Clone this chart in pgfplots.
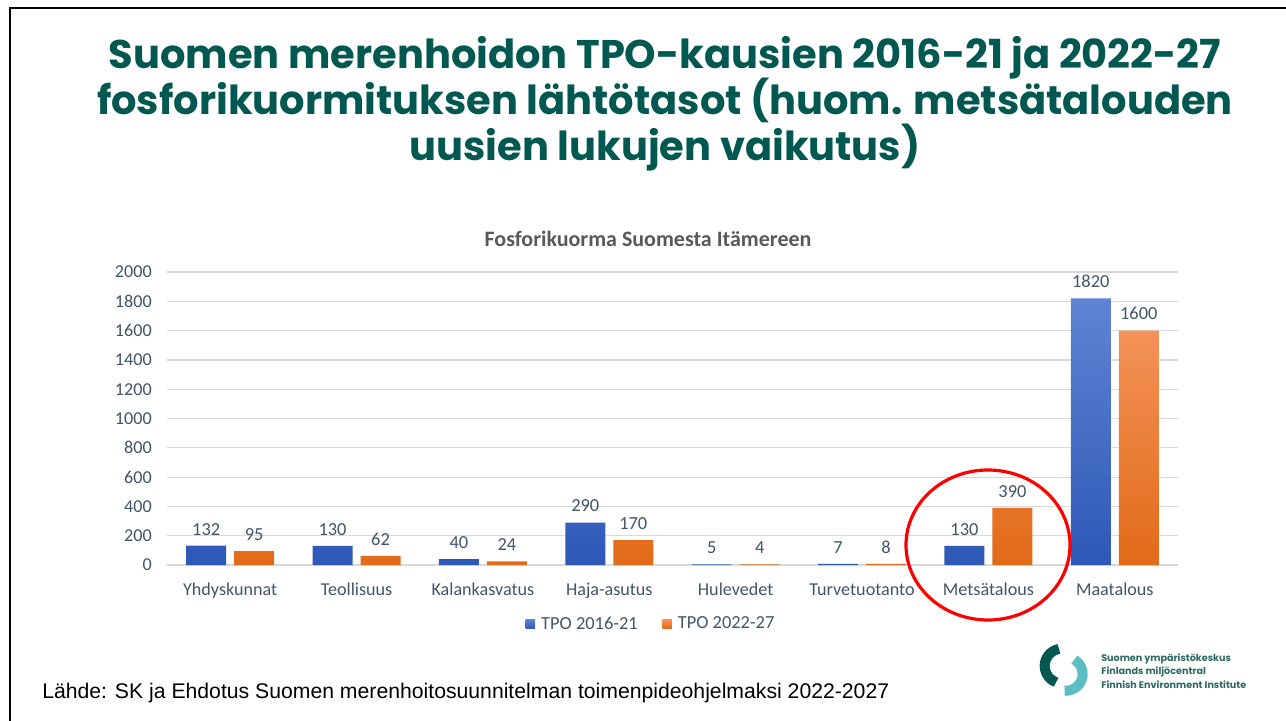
\documentclass[border=0pt]{standalone}
\usepackage{pgfplots}
\pgfplotsset{compat=1.18}
\usepackage{fontspec}
\newfontfamily\carlito{Carlito}
\newfontfamily\poppins{Poppins}
\newfontfamily\arialf{Liberation Sans}
\definecolor{titlegreen}{RGB}{0,88,80}
\definecolor{txtgray}{RGB}{68,84,106}
\definecolor{ctitle}{RGB}{89,89,89}
\definecolor{gridc}{RGB}{217,217,217}
\definecolor{blueT}{RGB}{95,132,212}
\definecolor{blueB}{RGB}{45,88,182}
\definecolor{orT}{RGB}{243,146,88}
\definecolor{orB}{RGB}{226,106,24}
\definecolor{logodark}{RGB}{0,88,80}
\definecolor{logolight}{RGB}{92,190,196}
\definecolor{logotxt}{RGB}{45,105,100}
\begin{document}
\begin{tikzpicture}
\useasboundingbox (0,0) rectangle (964.5pt,-540.75pt);
\fill[white] (0,0) rectangle (964.5pt,-540.75pt);
\draw[line width=1.5pt] (7.5pt,-540.75pt) -- (7.5pt,-6pt) -- (964.5pt,-6pt);
% title
\node[anchor=base, text=titlegreen, font=\poppins\bfseries\fontsize{30}{34}\selectfont, inner sep=0] at (498.75pt,-51pt) {Suomen merenhoidon TPO-kausien 2016-21 ja 2022-27};
\node[anchor=base, text=titlegreen, font=\poppins\bfseries\fontsize{30}{34}\selectfont, inner sep=0] at (498.75pt,-85.5pt) {fosforikuormituksen lähtötasot (huom. metsätalouden};
\node[anchor=base, text=titlegreen, font=\poppins\bfseries\fontsize{30}{34}\selectfont, inner sep=0] at (498.75pt,-120pt) {uusien lukujen vaikutus)};
% chart title
\node[anchor=base, text=ctitle, font=\carlito\bfseries\fontsize{16.5}{19}\selectfont, inner sep=0] at (486pt,-184.5pt) {Fosforikuorma Suomesta Itämereen};
\begin{axis}[
  at={(125.25pt,-423.75pt)}, anchor=south west,
  scale only axis, width=758.25pt, height=219.75pt,
  xmin=-0.5, xmax=7.5, ymin=0, ymax=2000,
  ytick={0,200,...,2000},
  xtick={0,...,7},
  xticklabels={Yhdyskunnat,Teollisuus,Kalankasvatus,Haja-asutus,Hulevedet,Turvetuotanto,Metsätalous,Maatalous},
  axis line style={draw=none}, tick style={draw=none},
  ymajorgrids, grid style={gridc, line width=0.9pt},
  /pgf/number format/assume math mode=true,
  /pgf/number format/1000 sep={},
  ticklabel style={font=\carlito\fontsize{13.6}{16}\selectfont, text=txtgray, inner sep=0},
  yticklabel style={anchor=east, xshift=-11.25pt},
  xticklabel style={anchor=base, yshift=-18.75pt},
  ybar, bar width=30pt,
  nodes near coords,
  nodes near coords style={font=\carlito\fontsize{13.8}{16}\selectfont, text=txtgray, anchor=base, inner sep=0, yshift=8pt},
  legend style={draw=none, at={(0.4807,-0.2014)}, anchor=center, legend columns=2,
    font=\carlito\fontsize{13.8}{16}\selectfont, text=txtgray,
    /tikz/every even column/.append style={column sep=14pt}},
  legend image code/.code={\path[#1] (0pt,-3.6pt) rectangle (7.2pt,3.6pt);},
  legend style={nodes={inner xsep=4.5pt}},
]
\addplot[draw=none, top color=blueT, bottom color=blueB, bar shift=-18pt] coordinates {(0,132) (1,130) (2,40) (3,290) (4,5) (5,7) (6,130) (7,1820)};
\addplot[draw=none, top color=orT, bottom color=orB, bar shift=18pt] coordinates {(0,95) (1,62) (2,24) (3,170) (4,4) (5,8) (6,390) (7,1600)};
\legend{TPO 2016-21, TPO 2022-27}
\end{axis}
% red ellipse
\draw[red, line width=2.4pt] (741pt,-408.75pt) ellipse [x radius=61.5pt, y radius=56.25pt];
% logo
\draw[logodark, line width=7.5pt] (796.5pt,-499.5pt) ++(100:13pt) arc[start angle=100, end angle=250, radius=13pt];
\draw[logolight, line width=7.5pt] (799.5pt,-505.5pt) ++(-95:12.5pt) arc[start angle=-95, end angle=60, radius=12.5pt];
\node[anchor=base west, text=logotxt, font=\poppins\bfseries\fontsize{7.2}{8}\selectfont, inner sep=0] at (825.75pt,-495.75pt) {Suomen ympäristökeskus};
\node[anchor=base west, text=logotxt, font=\poppins\bfseries\fontsize{7.2}{8}\selectfont, inner sep=0] at (825.75pt,-506pt) {Finlands miljöcentral};
\node[anchor=base west, text=logotxt, font=\poppins\bfseries\fontsize{7.2}{8}\selectfont, inner sep=0] at (825.75pt,-516pt) {Finnish Environment Institute};
% source
\node[anchor=base west, font=\arialf\fontsize{15.9}{18}\selectfont, inner sep=0] at (31.5pt,-524pt) {Lähde: SK ja Ehdotus Suomen merenhoitosuunnitelman toimenpideohjelmaksi 2022-2027};
\end{tikzpicture}
\end{document}
